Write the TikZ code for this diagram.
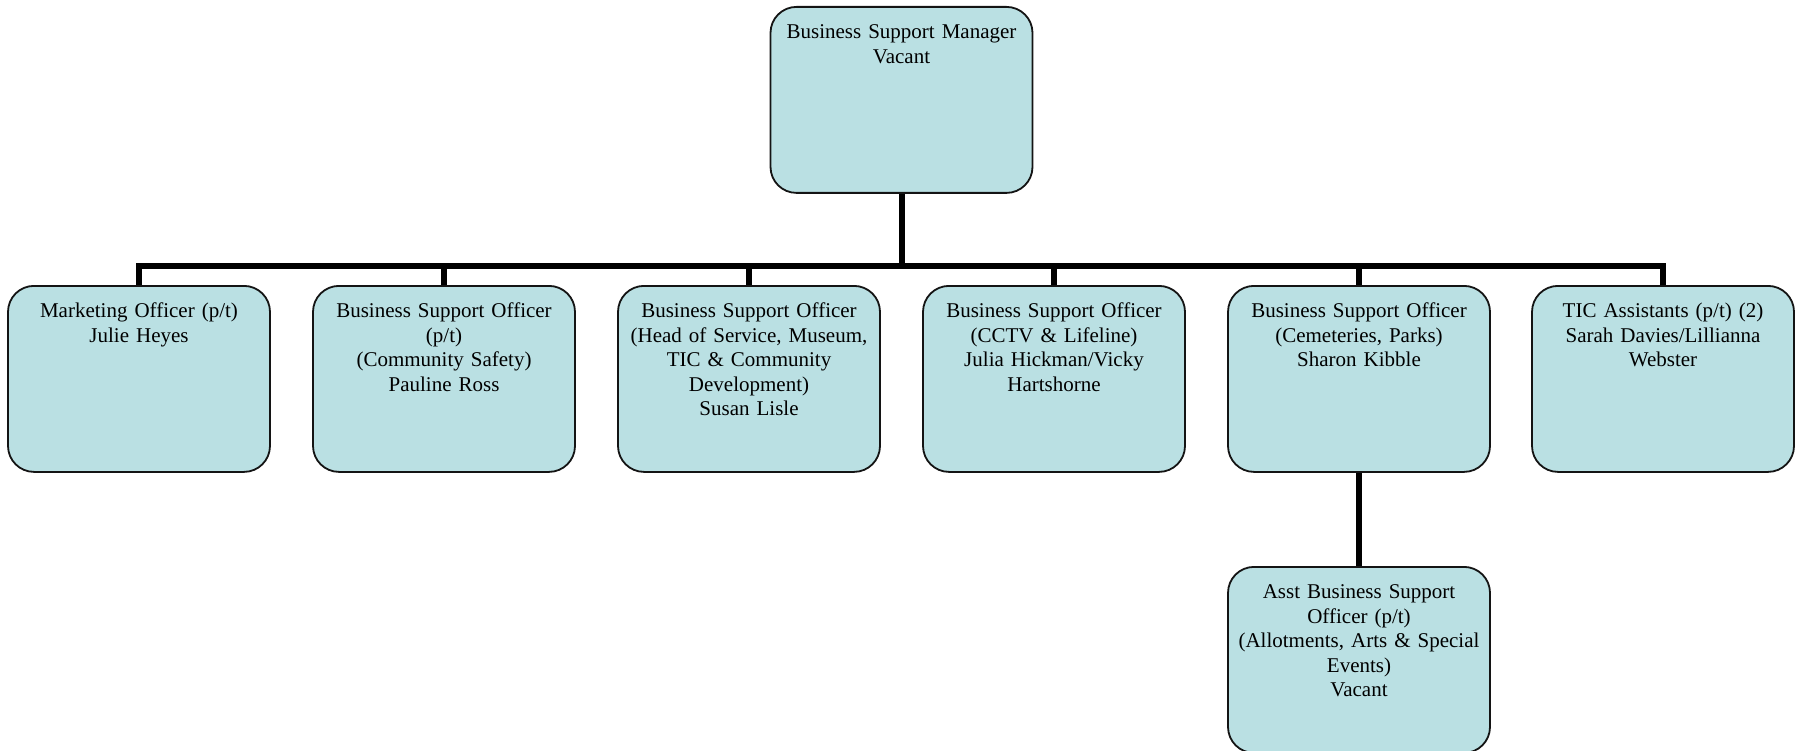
\documentclass[tikz,border=0pt]{standalone}
\usepackage{fontspec}
\setmainfont{Liberation Serif}
\usetikzlibrary{backgrounds}
\definecolor{boxfill}{RGB}{186,224,227}
\definecolor{boxline}{RGB}{20,20,20}
\begin{document}
\begin{tikzpicture}[x=1pt,y=-1pt,
  post/.style={draw=boxline, line width=1.8pt, fill=boxfill,
    rounded corners=26pt, anchor=north,
    text width=248pt, inner xsep=7pt, inner ysep=11pt,
    align=center, text height=21pt, text depth=143pt,
    font=\fontsize{21}{24.5}\selectfont},
  link/.style={line width=6pt, draw=black, line join=miter}]
\useasboundingbox (0,0) rectangle (1798,751);

% manager
\node[post] (mgr) at (901.5,6) {Business Support Manager\\Vacant};

% officers reporting to the manager
\node[post] (mkt) at (139,285) {Marketing Officer (p/t)\\Julie Heyes};
\node[post] (cs)  at (444,285) {Business Support Officer\\(p/t)\\(Community Safety)\\Pauline Ross};
\node[post] (hos) at (749,285) {Business Support Officer\\(Head of Service, Museum,\\TIC \& Community\\Development)\\Susan Lisle};
\node[post] (cctv) at (1054,285) {Business Support Officer\\(CCTV \& Lifeline)\\Julia Hickman/Vicky\\Hartshorne};
\node[post] (cem) at (1359,285) {Business Support Officer\\(Cemeteries, Parks)\\Sharon Kibble};
\node[post] (tic) at (1663,285) {TIC Assistants (p/t) (2)\\Sarah Davies/Lillianna\\Webster};

% assistant under cemeteries & parks
\node[post] (asst) at (1359,566) {Asst Business Support\\Officer (p/t)\\(Allotments, Arts \& Special\\Events)\\Vacant};

\coordinate (bus) at (901.5,266);

\begin{pgfonlayer}{background}
  \draw[link] (mgr.south) -- (bus);
  \draw[link] (mkt.north) |- (bus) -| (tic.north);
  \foreach \n in {cs,hos,cctv,cem}
    \draw[link] (\n.north) -- (\n.north |- bus);
  \draw[link] (cem.south) -- (asst.north);
\end{pgfonlayer}
\end{tikzpicture}
\end{document}
